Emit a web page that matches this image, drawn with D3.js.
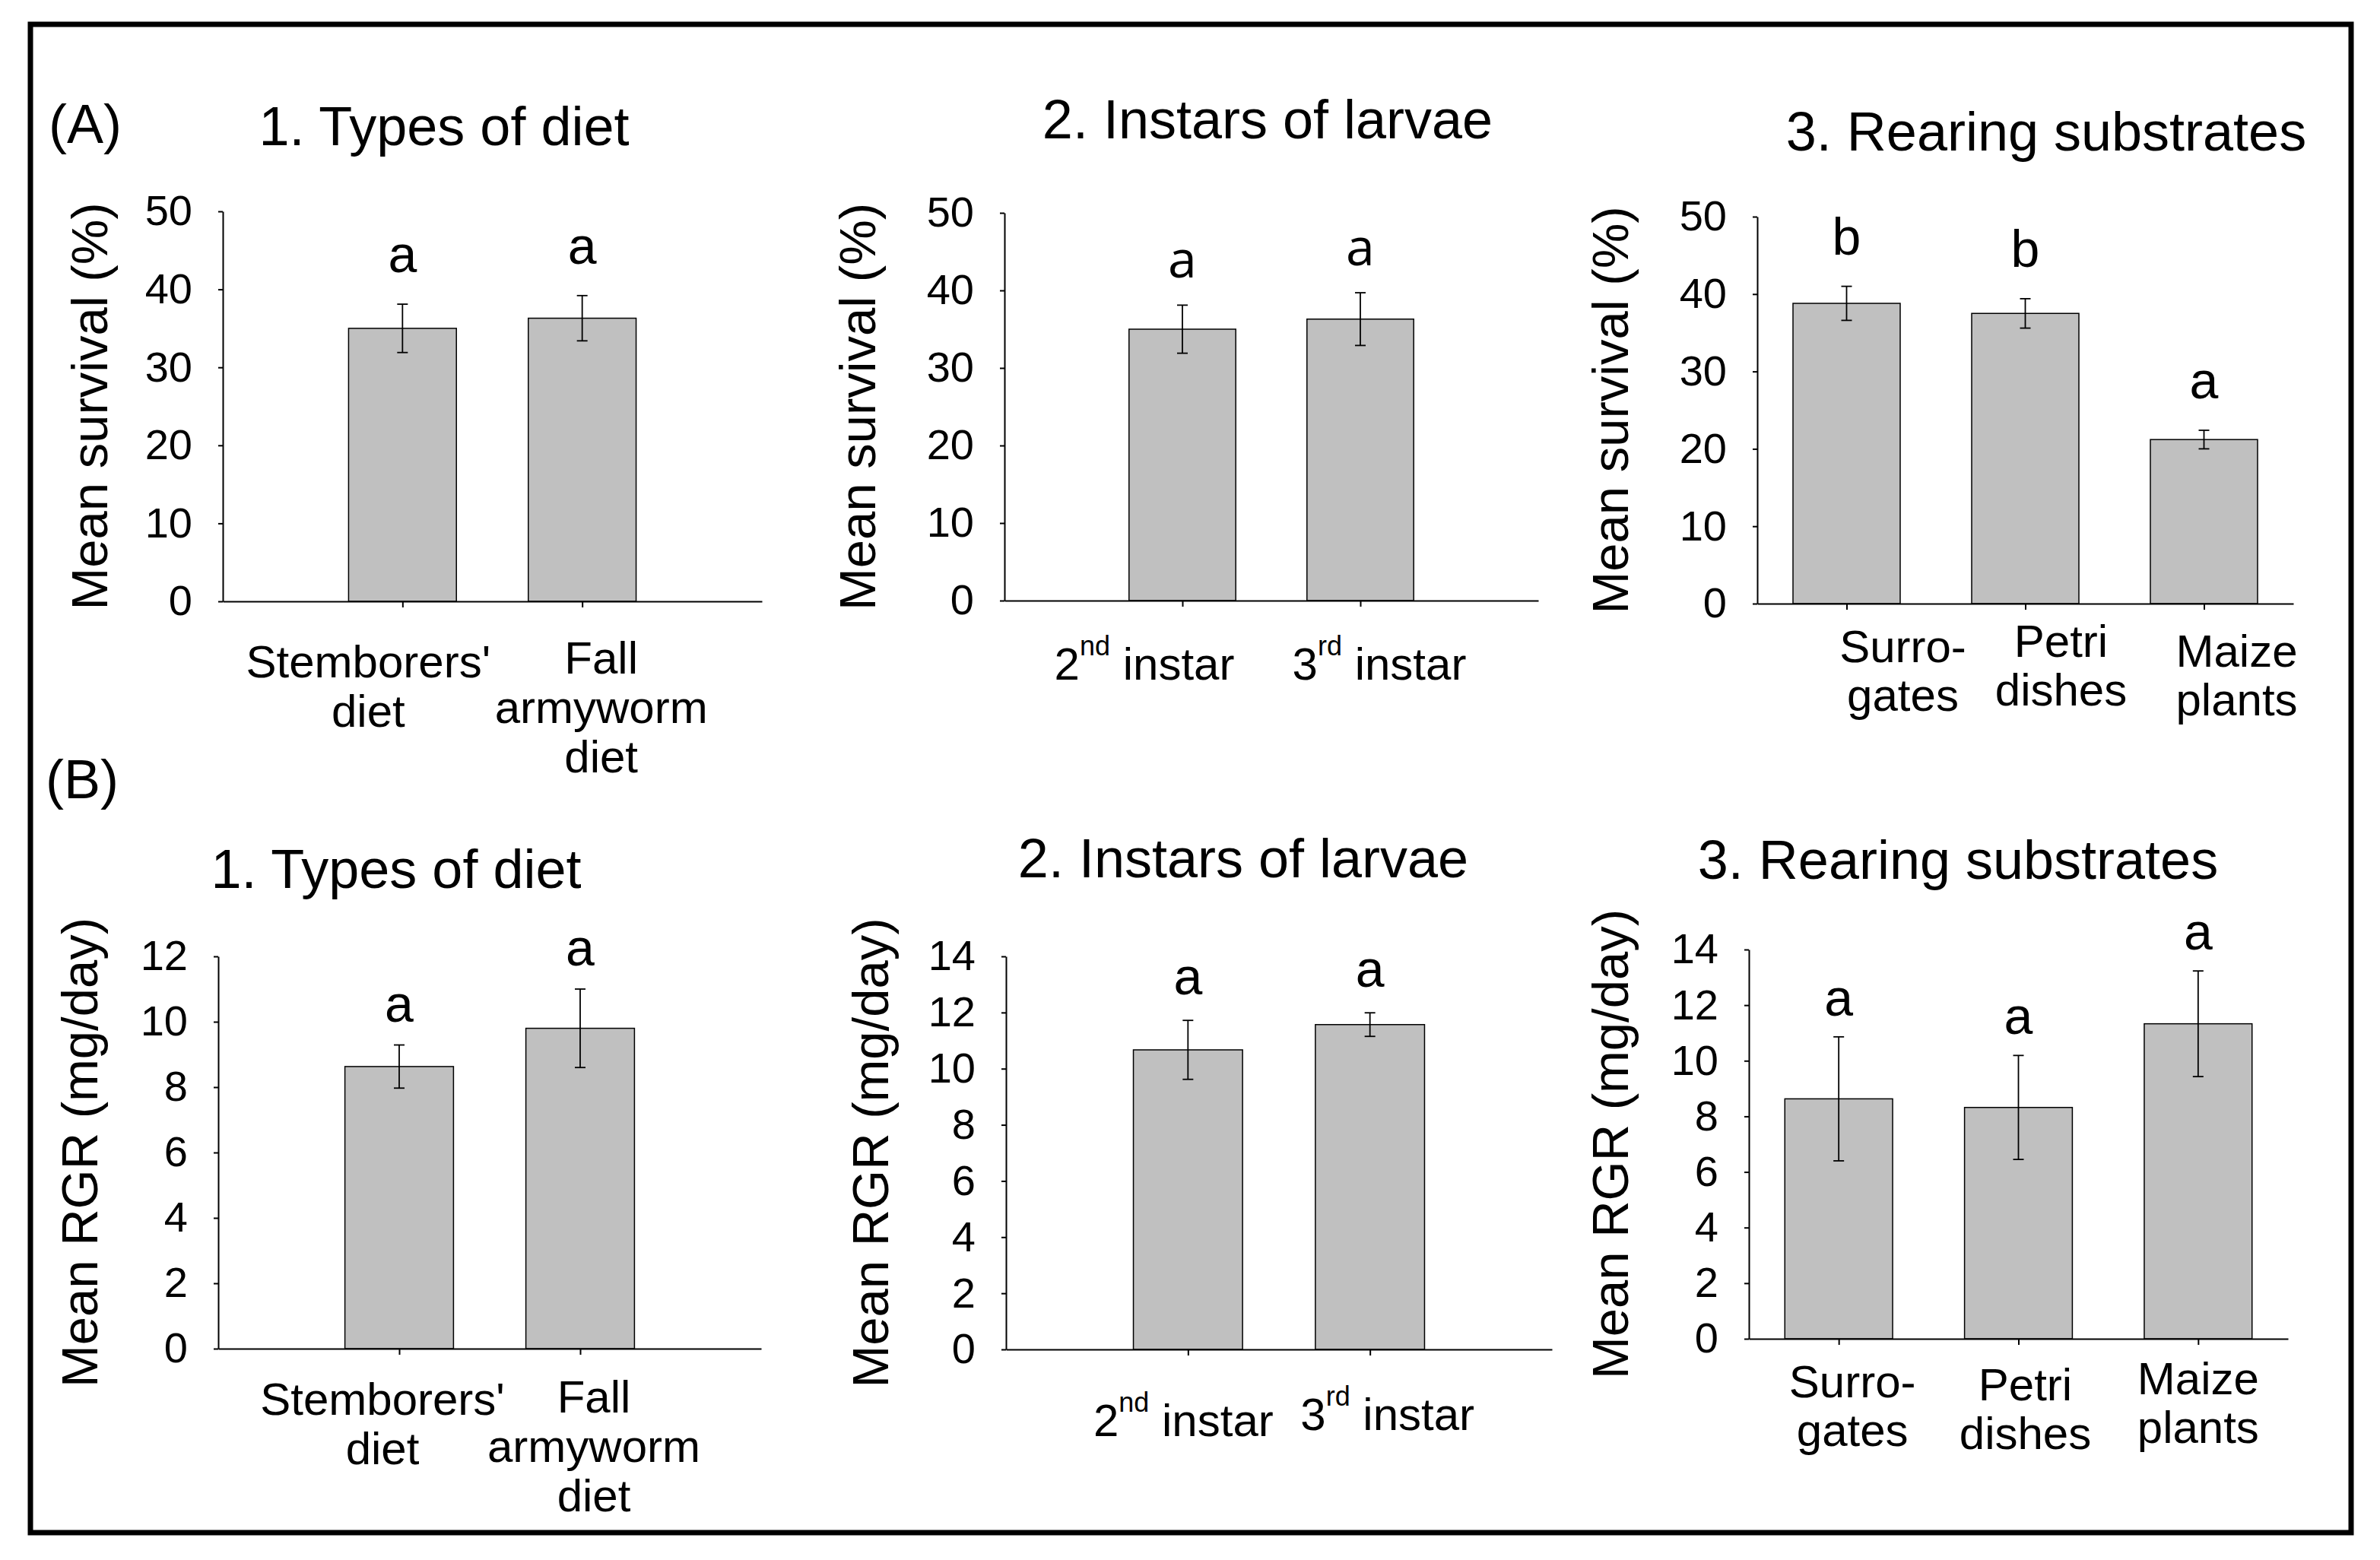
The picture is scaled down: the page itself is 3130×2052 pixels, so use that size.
<!DOCTYPE html>
<html>
<head>
<meta charset="utf-8">
<script src="https://cdn.jsdelivr.net/npm/d3@7"></script>
<style>
  body { margin: 0; background: #fff; }
  svg text { font-family: "Liberation Sans", Arial, sans-serif; fill: #000; }
</style>
</head>
<body>
<svg id="chart" width="3130" height="2052"></svg>
<script>
// category labels: "\n" breaks a line, "^xx" is a superscript
const dietCats = ["Stemborers'\ndiet", "Fall\narmyworm\ndiet"];
const instarCats = ["2^nd instar", "3^rd instar"];
const substrateCats = ["Surro-\ngates", "Petri\ndishes", "Maize\nplants"];

// (A) mean survival (%)
const survDiet = [35.0, 36.3];
const survDietSE = [3.1, 2.9];
const survDietLetters = ["a", "a"];
const survInstar = [35.0, 36.3];
const survInstarSE = [3.1, 3.4];
const survInstarLetters = ["a", "a"];
const survSubstrate = [38.8, 37.5, 21.2];
const survSubstrateSE = [2.2, 1.9, 1.2];
const survSubstrateLetters = ["b", "b", "a"];

// (B) mean RGR (mg/day)
const rgrDiet = [8.63, 9.8];
const rgrDietSE = [0.66, 1.2];
const rgrDietLetters = ["a", "a"];
const rgrInstar = [10.67, 11.57];
const rgrInstarSE = [1.05, 0.42];
const rgrInstarLetters = ["a", "a"];
const rgrSubstrate = [8.63, 8.32, 11.33];
const rgrSubstrateSE = [2.23, 1.87, 1.9];
const rgrSubstrateLetters = ["a", "a", "a"];

const survTicks = [0, 10, 20, 30, 40, 50];
const rgrTicks12 = [0, 2, 4, 6, 8, 10, 12];
const rgrTicks14 = [0, 2, 4, 6, 8, 10, 12, 14];

const titles = ["1. Types of diet", "2. Instars of larvae", "3. Rearing substrates"];
const survLabel = "Mean survival (%)";
const rgrLabel = "Mean RGR (mg/day)";

// layout of each panel (pixels)
const panels = [
  {cats: dietCats, vals: survDiet, se: survDietSE, letters: survDietLetters, ticks: survTicks, ylab: survLabel, title: titles[0],
   x0: 293, x1: 1002, y0: 791, y1: 278, pad: 1, tx: 584, ty: 191, lx: 117, gap: 42,
   nudge: [[-45, 100], [25, 95]], lh: 65},
  {cats: instarCats, vals: survInstar, se: survInstarSE, letters: survInstarLetters, ticks: survTicks, ylab: survLabel, title: titles[1],
   x0: 1321, x1: 2023, y0: 790, y1: 280, pad: 1, tx: 1667, ty: 182, lx: 1127, gap: 36, letterFont: "Open Sans",
   nudge: [[-50, 104], [25, 104]], lh: 65},
  {cats: substrateCats, vals: survSubstrate, se: survSubstrateSE, letters: survSubstrateLetters, ticks: survTicks, ylab: survLabel, title: titles[2],
   x0: 2311, x1: 3016, y0: 794, y1: 285, pad: 0.5, tx: 2691, ty: 198, lx: 2117, gap: 42,
   nudge: [[74, 77], [47, 70], [43, 83]], lh: 64},
  {cats: dietCats, vals: rgrDiet, se: rgrDietSE, letters: rgrDietLetters, ticks: rgrTicks12, ylab: rgrLabel, title: titles[0],
   x0: 287, x1: 1001, y0: 1774, y1: 1258, pad: 1, tx: 521, ty: 1168, lx: 104, gap: 31,
   nudge: [[-22, 87], [18, 84]], lh: 65},
  {cats: instarCats, vals: rgrInstar, se: rgrInstarSE, letters: rgrInstarLetters, ticks: rgrTicks14, ylab: rgrLabel, title: titles[1],
   x0: 1323, x1: 2041, y0: 1775, y1: 1258, pad: 1, tx: 1635, ty: 1154, lx: 1144, gap: 34,
   nudge: [[-6, 114], [23, 106]], lh: 65},
  {cats: substrateCats, vals: rgrSubstrate, se: rgrSubstrateSE, letters: rgrSubstrateLetters, ticks: rgrTicks14, ylab: rgrLabel, title: titles[2],
   x0: 2300, x1: 3009, y0: 1761, y1: 1249, pad: 0.5, tx: 2575, ty: 1156, lx: 2117, gap: 28,
   nudge: [[18, 77], [9, 81], [0, 73]], lh: 64}
];

const svg = d3.select('#chart');

svg.append('rect')
  .attr('x', 40).attr('y', 32).attr('width', 3052).attr('height', 1984)
  .attr('fill', 'none').attr('stroke', '#000').attr('stroke-width', 7);

svg.append('text').attr('x', 64).attr('y', 188).attr('font-size', 72).text('(A)');
svg.append('text').attr('x', 60).attr('y', 1050).attr('font-size', 72).text('(B)');

function writeLine(text, line) {
  const m = line.match(/^(.*?)\^(\S+)(.*)$/);
  if (!m) {
    text.text(line);
    return;
  }
  text.append('tspan').text(m[1]);
  text.append('tspan').attr('font-size', 36).attr('dy', -32).text(m[2]);
  text.append('tspan').attr('dy', 32).text(m[3]);
}

panels.forEach((p) => {
  const g = svg.append('g');
  const x = d3.scalePoint().domain(p.cats).range([p.x0, p.x1]).padding(p.pad);
  const yMax = p.ticks[p.ticks.length - 1];
  const y = d3.scaleLinear().domain([0, yMax]).range([p.y0, p.y1]);
  const bw = x.step() * 0.6;

  // bars
  g.selectAll('rect.bar').data(p.vals).enter().append('rect')
    .attr('class', 'bar')
    .attr('x', (d, i) => x(p.cats[i]) - bw / 2)
    .attr('y', (d) => y(d))
    .attr('width', bw)
    .attr('height', (d) => y(0) - y(d))
    .attr('fill', '#c0c0c0').attr('stroke', '#000').attr('stroke-width', 1.5);

  // error bars
  const err = g.selectAll('g.err').data(p.vals).enter().append('g').attr('class', 'err')
    .attr('stroke', '#000').attr('stroke-width', 1.8);
  err.append('line')
    .attr('x1', (d, i) => x(p.cats[i])).attr('x2', (d, i) => x(p.cats[i]))
    .attr('y1', (d, i) => y(d + p.se[i])).attr('y2', (d, i) => y(d - p.se[i]));
  err.append('line')
    .attr('x1', (d, i) => x(p.cats[i]) - 7).attr('x2', (d, i) => x(p.cats[i]) + 7)
    .attr('y1', (d, i) => y(d + p.se[i])).attr('y2', (d, i) => y(d + p.se[i]));
  err.append('line')
    .attr('x1', (d, i) => x(p.cats[i]) - 7).attr('x2', (d, i) => x(p.cats[i]) + 7)
    .attr('y1', (d, i) => y(d - p.se[i])).attr('y2', (d, i) => y(d - p.se[i]));

  // significance letters
  g.selectAll('text.letter').data(p.vals).enter().append('text')
    .attr('class', 'letter')
    .attr('x', (d, i) => x(p.cats[i]))
    .attr('y', (d, i) => y(d + p.se[i]) - p.gap)
    .attr('text-anchor', 'middle')
    .attr('font-size', 68)
    .style('font-family', p.letterFont || null)
    .text((d, i) => p.letters[i]);

  // y axis
  const yAxis = g.append('g').attr('transform', `translate(${p.x0},0)`)
    .call(d3.axisLeft(y).tickValues(p.ticks).tickSize(6).tickSizeOuter(0).tickPadding(34).tickFormat(d3.format('d')));
  yAxis.selectAll('path, line').attr('stroke', '#000').attr('stroke-width', 2);
  yAxis.selectAll('text').attr('font-size', 56).attr('font-family', null);

  // x axis
  const xAxis = g.append('g').attr('transform', `translate(0,${p.y0})`)
    .call(d3.axisBottom(x).tickSize(8).tickSizeOuter(0).tickFormat(''));
  xAxis.selectAll('path, line').attr('stroke', '#000').attr('stroke-width', 2);

  // category labels
  p.cats.forEach((c, i) => {
    const lines = c.split('\n');
    lines.forEach((line, j) => {
      const t = g.append('text')
        .attr('x', x(c) + p.nudge[i][0])
        .attr('y', p.y0 + p.nudge[i][1] + j * p.lh)
        .attr('text-anchor', 'middle')
        .attr('font-size', 60);
      writeLine(t, line);
    });
  });

  // titles
  g.append('text').attr('x', p.tx).attr('y', p.ty)
    .attr('text-anchor', 'middle').attr('font-size', 72).text(p.title);

  // y label
  g.append('text')
    .attr('transform', `translate(${p.lx},${(p.y0 + p.y1) / 2}) rotate(-90)`)
    .attr('text-anchor', 'middle').attr('dominant-baseline', 'central')
    .attr('font-size', 67).text(p.ylab);
});
</script>
</body>
</html>
